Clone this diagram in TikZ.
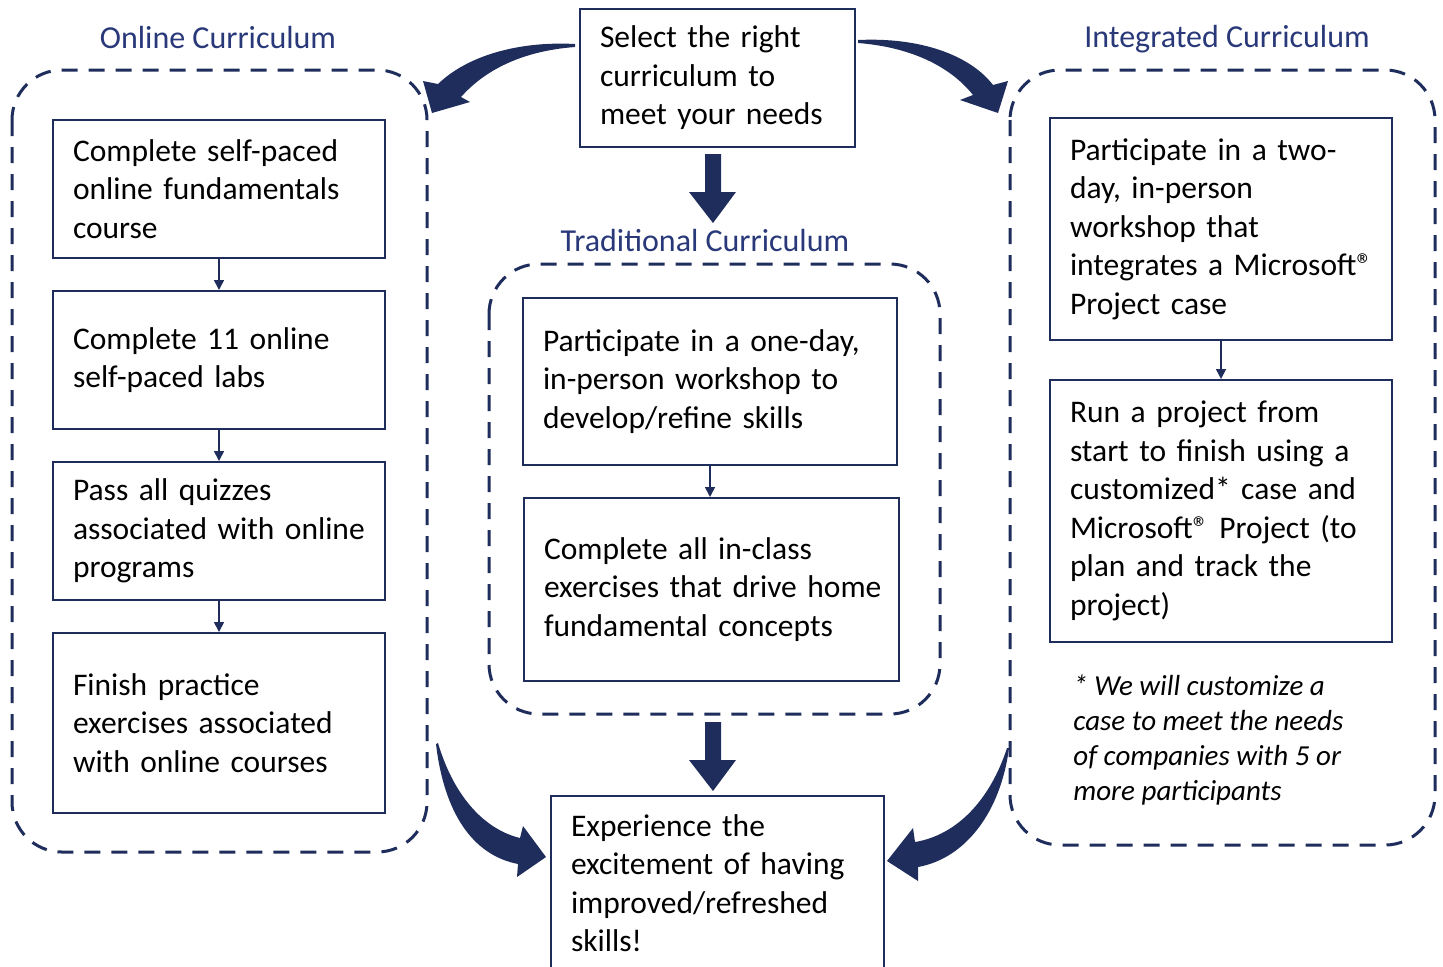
\documentclass[tikz,border=0pt]{standalone}
\usepackage{fontspec}
\setmainfont{Carlito}
\usetikzlibrary{arrows.meta}
\definecolor{navy}{RGB}{31,45,92}
\definecolor{titleblue}{RGB}{40,56,120}
\begin{document}
\begin{tikzpicture}[x=0.5pt,y=-0.5pt,
  box/.style={draw=navy, line width=1pt, align=left, inner xsep=10pt, inner ysep=0pt,
    font=\fontsize{15.75pt}{19.25pt}\selectfont, text=black},
  group/.style={draw=navy, line width=1.5pt, dash pattern=on 8pt off 5.5pt, rounded corners=25pt},
  title/.style={text=titleblue, inner sep=0pt, font=\fontsize{16pt}{19pt}\selectfont},
  flow/.style={draw=navy, line width=0.8pt, -{Triangle[width=5pt,length=5pt]}},
  bigarrow/.style={fill=navy}]
\useasboundingbox (0,0) rectangle (1443,966);
\clip (0,0) rectangle (1443,966);

% groups
\draw[group] (12,70) rectangle (427,852);
\draw[group] (489,264) rectangle (940,714);
\draw[group] (1010,70) rectangle (1435,845);

% titles
\node[title] (t1) at (218,37) {Online Curriculum};
\node[title] (t2) at (705,240) {Traditional Curriculum};
\node[title] (t3) at (1227,39) {Integrated Curriculum};

% top / bottom
\node[box, text width=117.5pt, minimum height=69pt] (top) at (717.5,78) {\mbox{Select the right}\\\mbox{curriculum to}\\\mbox{meet your needs}};
\node[box, text width=146.5pt, minimum height=87pt] (end) at (717.5,883) {\mbox{Experience the}\\\mbox{excitement of having}\\\mbox{improved/refreshed}\\\mbox{skills!}};

% online
\node[box, text width=146pt, minimum height=69pt] (o1) at (219,189) {\mbox{Complete self-paced}\\\mbox{online fundamentals}\\\mbox{course}};
\node[box, text width=146pt, minimum height=69pt] (o2) at (219,360) {\mbox{Complete 11 online}\\\mbox{self-paced labs}};
\node[box, text width=146pt, minimum height=69pt] (o3) at (219,531) {\mbox{Pass all quizzes}\\\mbox{associated with online}\\\mbox{programs}};
\node[box, text width=146pt, minimum height=90pt] (o4) at (219,723) {\mbox{Finish practice}\\\mbox{exercises associated}\\\mbox{with online courses}};
\draw[flow] (o1.south) -- (o2.north);
\draw[flow] (o2.south) -- (o3.north);
\draw[flow] (o3.south) -- (o4.north);

% traditional
\node[box, text width=167pt, minimum height=83.5pt] (m1) at (710,381.5) {\mbox{Participate in a one-day,}\\\mbox{in-person workshop to}\\\mbox{develop/refine skills}};
\node[box, text width=167.5pt, minimum height=91.5pt] (m2) at (711.5,589.5) {\mbox{Complete all in-class}\\\mbox{exercises that drive home}\\\mbox{fundamental concepts}};
\draw[flow] (m1.south -| 710,0) -- (m2.north -| 710,0);

% integrated
\node[box, text width=151pt, minimum height=111pt] (r1) at (1221,229) {\mbox{Participate in a two-}\\\mbox{day, in-person}\\\mbox{workshop that}\\\mbox{integrates a Microsoft®}\\\mbox{Project case}};
\node[box, text width=151pt, minimum height=131pt] (r2) at (1221,511) {\mbox{Run a project from}\\\mbox{start to finish using a}\\\mbox{customized* case and}\\\mbox{Microsoft® Project (to}\\\mbox{plan and track the}\\\mbox{project)}};
\draw[flow] (r1.south) -- (r2.north);

\node[anchor=west, align=left, inner sep=0pt, font=\itshape\fontsize{14.5pt}{17.6pt}\selectfont] (note) at (1073,740)
  {* We will customize a\\case to meet the needs\\of companies with 5 or\\more participants};

% straight block arrows
\fill[navy] (705,154) -- (721,154) -- (721,192) -- (736,192) -- (713,223) -- (689,192) -- (705,192) -- cycle;
\fill[navy] (705,722) -- (721,722) -- (721,760) -- (736,760) -- (713,791) -- (689,760) -- (705,760) -- cycle;

% curved block arrows
\fill[navy] (575,44) .. controls (520,41) and (468,55) .. (438,84) -- (423,81) -- (432,113) -- (470,102) -- (461,97) .. controls (485,70) and (522,51) .. (575,47) -- cycle;
\fill[navy] (858,40) .. controls (920,37) and (970,55) .. (993,85) -- (1008,81) -- (998,113) -- (960,100) -- (973,95) .. controls (950,66) and (910,47) .. (858,43) -- cycle;
\fill[navy] (438,743) .. controls (455,800) and (487,830) .. (520,838) -- (523,826) -- (546,857) -- (517,877) -- (518,864) .. controls (472,855) and (444,812) .. (436,744) -- cycle;
\fill[navy] (1007,748) .. controls (990,800) and (957,835) .. (915,842) -- (913,828) -- (887,861) -- (918,881) -- (918,867) .. controls (967,858) and (1001,810) .. (1009,748) -- cycle;
\end{tikzpicture}
\end{document}
